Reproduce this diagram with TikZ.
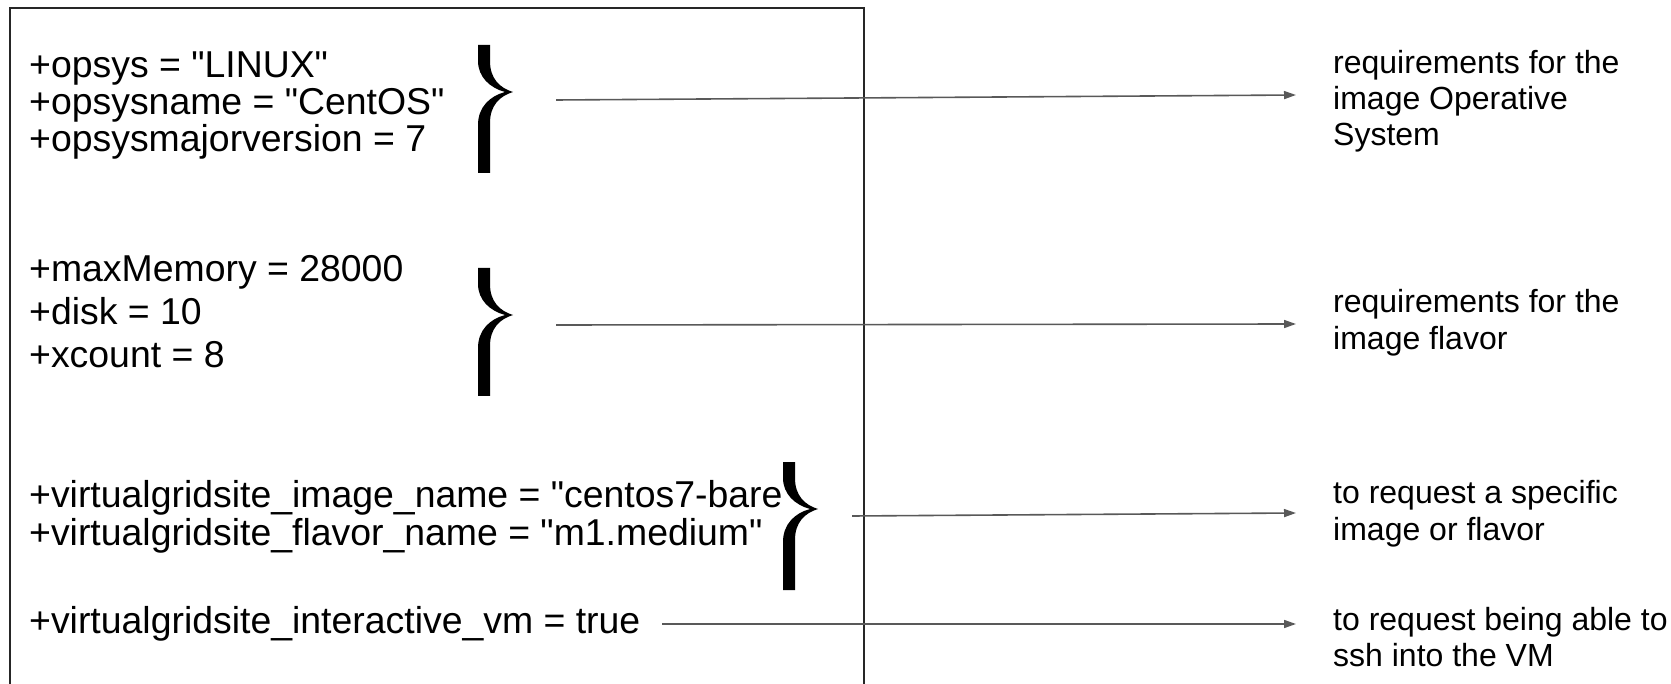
\documentclass[tikz,border=0pt]{standalone}
\usepackage{fontspec}
\setmainfont{Liberation Sans}[Ligatures=TeXOff]
\usetikzlibrary{arrows.meta}
\definecolor{linkgray}{HTML}{595959}
\definecolor{framegray}{HTML}{262626}
\begin{document}
\begin{tikzpicture}[x=1pt,y=-1pt,
  code/.style={anchor=base west, inner sep=0pt, font=\fontsize{37.4}{44}\selectfont},
  note/.style={anchor=base west, inner sep=0pt, font=\fontsize{32}{37}\selectfont},
  link/.style={draw=linkgray, line width=1.6pt, -{Triangle[length=12pt,width=8pt]}},
  frame/.style={draw=framegray, line width=1.5pt},
  curly/.pic={
    \fill (0,0) -- (12,0) -- (12,16)
      .. controls (12,34) and (22,43) .. (35,47)
      .. controls (22,51) and (12,60) .. (12,78)
      -- (12,128) -- (0,128) -- (0,80)
      .. controls (0,62) and (12,51) .. (27,47)
      .. controls (12,43) and (0,32) .. (0,16) -- cycle;
  }
]
\useasboundingbox (0,0) rectangle (1671,684);

% frame around the submit attributes (open at the bottom)
\draw[frame] (10,684) -- (10,8) -- (864,8) -- (864,684);

% operating system attributes
\node[code] (os1) at (29,78)  {+opsys = "LINUX"};
\node[code] (os2) at (29,115) {+opsysname = "CentOS"};
\node[code] (os3) at (29,152) {+opsysmajorversion = 7};

% flavor attributes
\node[code] (fl1) at (29,282) {+maxMemory = 28000};
\node[code] (fl2) at (29,325) {+disk = 10};
\node[code] (fl3) at (29,368) {+xcount = 8};

% explicit image / flavor and interactive VM
\node[code] (vg1) at (29,507) {+virtualgridsite\_image\_name = "centos7-bare};
\node[code] (vg2) at (29,545) {+virtualgridsite\_flavor\_name = "m1.medium"};
\node[code] (vg3) at (29,633) {+virtualgridsite\_interactive\_vm = true};

% grouping braces
\pic at (478,45)  {curly};
\pic at (478,268) {curly};
\pic at (783,462) {curly};

% explanations
\node[note] (n1a) at (1333,74)  {requirements for the};
\node[note] (n1b) at (1333,110) {image Operative};
\node[note] (n1c) at (1333,146) {System};
\node[note] (n2a) at (1333,313) {requirements for the};
\node[note] (n2b) at (1333,350) {image flavor};
\node[note] (n3a) at (1333,503) {to request a specific};
\node[note] (n3b) at (1333,540) {image or flavor};
\node[note] (n4a) at (1333,630) {to request being able to};
\node[note] (n4b) at (1333,666) {ssh into the VM};

% connector ends
\coordinate (a1s) at (556,100); \coordinate (a1e) at (1296,95);
\coordinate (a2s) at (556,325); \coordinate (a2e) at (1296,324);
\coordinate (a3s) at (852,516); \coordinate (a3e) at (1296,513);
\coordinate (a4s) at (662,624); \coordinate (a4e) at (1296,624);

\draw[link] (a1s) -- (a1e);
\draw[link] (a2s) -- (a2e);
\draw[link] (a3s) -- (a3e);
\draw[link] (a4s) -- (a4e);
\end{tikzpicture}
\end{document}
